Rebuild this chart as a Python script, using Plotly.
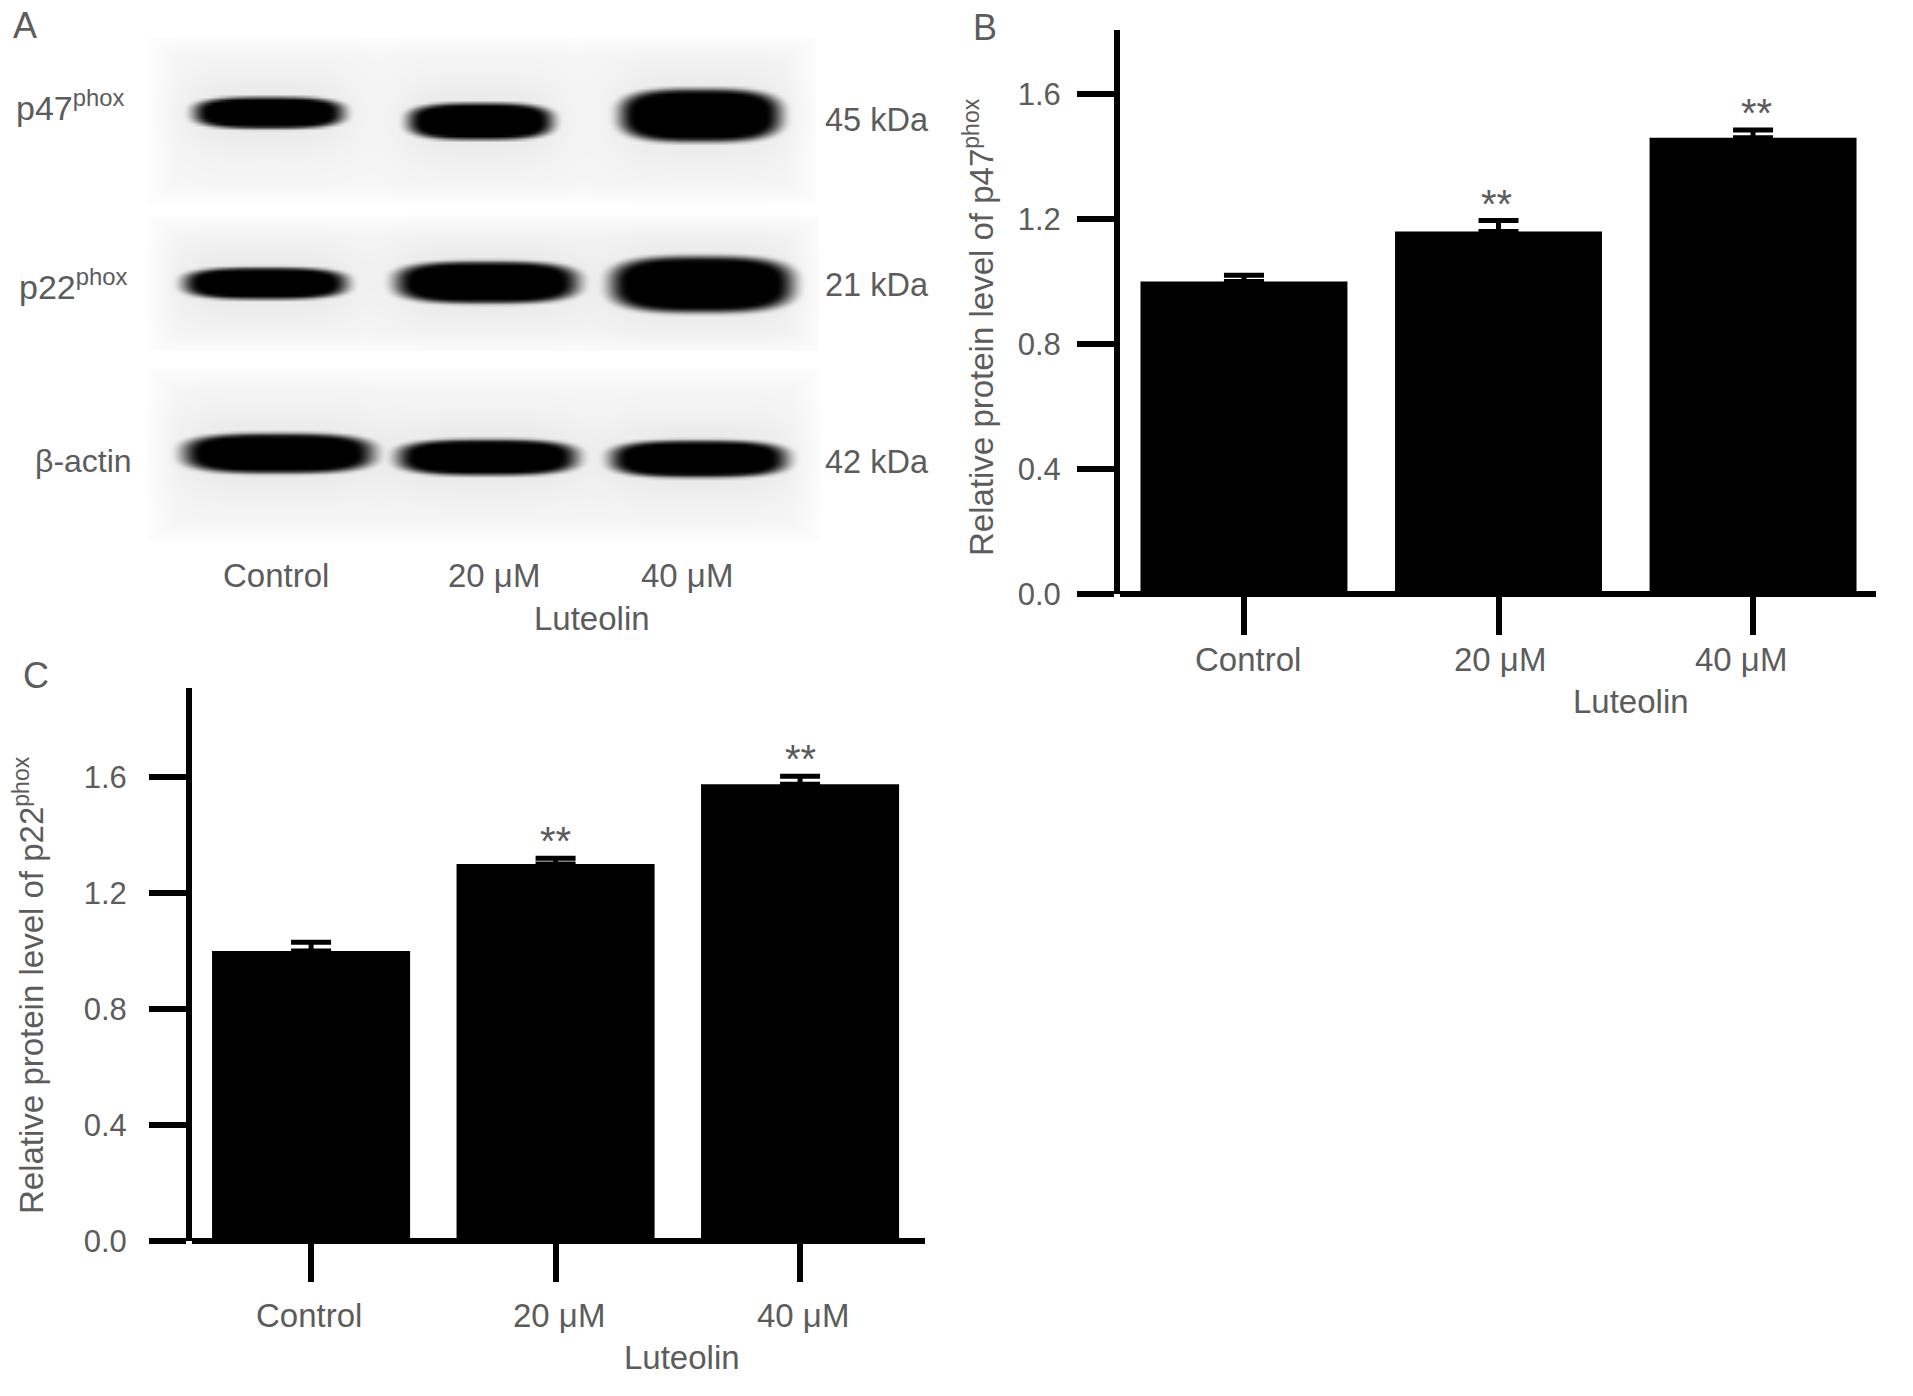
import numpy as np
import plotly.graph_objects as go

W, H = 1913, 1396
FONT = "Liberation Sans"
GREY = "#5c5c5c"
FS = 33

categories = ["Control", "20 μM", "40 μM"]
p47_values = [1.00, 1.16, 1.46]
p47_err = [0.02, 0.035, 0.025]
p22_values = [1.00, 1.30, 1.575]
p22_err = [0.03, 0.02, 0.028]
y_ticks = [0.0, 0.4, 0.8, 1.2, 1.6]
stars = ["", "**", "**"]

# blot strips: (x0, x1, y0, y1) in image pixels of the blot picture
blot_strips = [(148, 815, 37, 202), (148, 818, 217, 351), (148, 820, 369, 540)]
# bands: (strip, x0, x1, y0, y1)
blot_bands = [
    (0, 195, 342, 97, 128), (0, 409, 551, 103, 139), (0, 621, 779, 89, 141),
    (1, 185, 345, 267, 298), (1, 397, 576, 261, 302), (1, 612, 791, 256, 311),
    (2, 185, 371, 433, 472), (2, 399, 575, 439, 474), (2, 612, 785, 440, 476),
]
blot_left = ["p47<sup>phox</sup>", "p22<sup>phox</sup>", "β-actin"]
blot_right = ["45 kDa", "21 kDa", "42 kDa"]


def px(x):
    return x / W


def py(y):
    return 1 - y / H


def strip_image(idx):
    x0, x1, y0, y1 = blot_strips[idx]
    xs = np.arange(x0, x1 + 1, 3.0)
    ys = np.arange(y0, y1 + 1, 3.0)
    X, Y = np.meshgrid(xs, ys)
    ex = np.minimum(X - x0, x1 - X) / 30
    ey = np.minimum(Y - y0, y1 - Y) / 20
    edge = np.clip(np.minimum(ex, ey), 0, 1)
    img = 253 - 7 * edge
    for s, bx0, bx1, by0, by1 in blot_bands:
        if s != idx:
            continue
        cx, cy = (bx0 + bx1) / 2, (by0 + by1) / 2
        hw, hh = (bx1 - bx0) / 2, (by1 - by0) / 2
        d = ((np.abs(X - cx) / hw) ** 3 + (np.abs(Y - cy) / hh) ** 3) ** (1 / 3)
        # soft halo then dense core
        halo = np.exp(-(((X - cx) / (hw + 14)) ** 4 + ((Y - cy) / (hh + 26)) ** 2))
        img = img - 14 * halo
        t = np.clip((d - 0.82) / 0.36, 0, 1)
        core = 1 - t * t * (3 - 2 * t)
        img = img * (1 - core)
    return xs, ys, np.clip(img, 0, 255)


fig = go.Figure()

for i in range(3):
    xs, ys, z = strip_image(i)
    fig.add_trace(go.Heatmap(
        x=xs, y=ys, z=z, zmin=0, zmax=255, zsmooth="best", showscale=False,
        colorscale=[[0, "#000000"], [1, "#ffffff"]], hoverinfo="skip",
        xaxis="x3", yaxis="y3"))

fig.add_trace(go.Bar(
    x=[0, 1, 2], y=p47_values, width=0.813, marker=dict(color="#000000", line_width=0),
    error_y=dict(type="data", symmetric=False, array=p47_err, arrayminus=[0, 0, 0],
                 color="#000000", thickness=5, width=20),
    xaxis="x", yaxis="y"))
fig.add_trace(go.Bar(
    x=[0, 1, 2], y=p22_values, width=0.81, marker=dict(color="#000000", line_width=0),
    error_y=dict(type="data", symmetric=False, array=p22_err, arrayminus=[0, 0, 0],
                 color="#000000", thickness=5, width=20),
    xaxis="x2", yaxis="y2"))


def xax(dom, rng, anchor):
    return dict(domain=dom, range=rng, anchor=anchor, showline=False, automargin=False,
                ticks="outside", ticklen=40, tickwidth=6, tickcolor="#000000",
                tickvals=[0, 1, 2], showticklabels=False, showgrid=False, zeroline=False)


def yax(dom, rng, anchor, standoff):
    return dict(domain=dom, range=rng, anchor=anchor, showline=True, linecolor="#000000",
                linewidth=6, ticks="outside", ticklen=37, tickwidth=6, tickcolor="#000000",
                tickvals=y_ticks, tickformat=".1f", automargin=False,
                tickfont=dict(family=FONT, size=31, color=GREY), ticklabelstandoff=standoff,
                showgrid=False, zeroline=True, zerolinecolor="#000000", zerolinewidth=6)


annotations = []


def text(x, y, s, size=FS, angle=0, color=GREY, xanchor="center", xref="paper", yref="paper",
         xshift=0, yshift=0):
    annotations.append(dict(x=x, y=y, text=s, xref=xref, yref=yref, showarrow=False,
                            xanchor=xanchor, yanchor="middle", textangle=angle,
                            xshift=xshift, yshift=yshift,
                            font=dict(family=FONT, size=size, color=color)))


# panel letters
text(px(25), py(26), "A", size=36)
text(px(985), py(27), "B", size=36)
text(px(36), py(676), "C", size=36)

# blot labels
for label, lx, ly, sz in zip(blot_left, [70, 73, 83], [105, 284, 461], [34, 34, 32]):
    text(px(lx), py(ly), label, size=sz)
for label, ly in zip(blot_right, [120, 285, 462]):
    text(px(823), py(ly), label, xanchor="left", size=32.5)
for label, lx in zip(categories, [276, 494, 687]):
    text(px(lx), py(575), label)
text(px(592), py(619), "Luteolin")

# panel B
for i, (label, sh) in enumerate(zip(categories, [4, 1, -12])):
    text(i, py(660), label, xref="x", xshift=sh)
    if stars[i]:
        text(i, p47_values[i] + p47_err[i], stars[i], xref="x", yref="y", size=40,
             xshift=[0, -2, 3][i], yshift=17)
text(px(1631), py(701), "Luteolin")
text(px(979), py(327), "Relative protein level of p47<sup>phox</sup>", angle=-90)

# panel C
for i, (label, sh) in enumerate(zip(categories, [-2, 3, 3])):
    text(i, py(1315), label, xref="x2", xshift=sh)
    if stars[i]:
        text(i, p22_values[i] + p22_err[i], stars[i], xref="x2", yref="y2", size=40, yshift=17)
text(px(682), py(1357), "Luteolin")
text(px(29), py(985), "Relative protein level of p22<sup>phox</sup>", angle=-90)

# axis corners: close the join between the y axis line and the baseline
corners = [
    dict(type="line", xref=f"{ax} domain", yref=ay, x0=-0.012, x1=0.002, y0=0, y1=0,
         line=dict(color="#000000", width=6), layer="above")
    for ax, ay in (("x", "y"), ("x2", "y2"))
]

fig.update_layout(
    template="none",
    width=W, height=H, autosize=False, margin=dict(l=0, r=0, t=0, b=0, pad=0, autoexpand=False),
    paper_bgcolor="#ffffff", plot_bgcolor="rgba(0,0,0,0)", showlegend=False,
    xaxis=xax([px(1120), px(1876)], [-0.487, 2.483], "y"),
    yaxis=yax([py(594), py(30)], [0, 1.805], "x", 10),
    xaxis2=xax([px(192), px(925)], [-0.487, 2.511], "y2"),
    yaxis2=yax([py(1241), py(688)], [0, 1.907], "x2", 16),
    xaxis3=dict(domain=[px(148), px(820)], range=[148, 820], anchor="y3", visible=False),
    yaxis3=dict(domain=[py(540), py(37)], range=[540, 37], anchor="x3", visible=False),
    annotations=annotations,
    shapes=corners,
)

fig.write_html(
    "out.html",
    config=dict(displayModeBar=False, responsive=False),
    default_width=f"{W}px",
    default_height=f"{H}px",
    post_script="document.body.style.margin='0';",
)
